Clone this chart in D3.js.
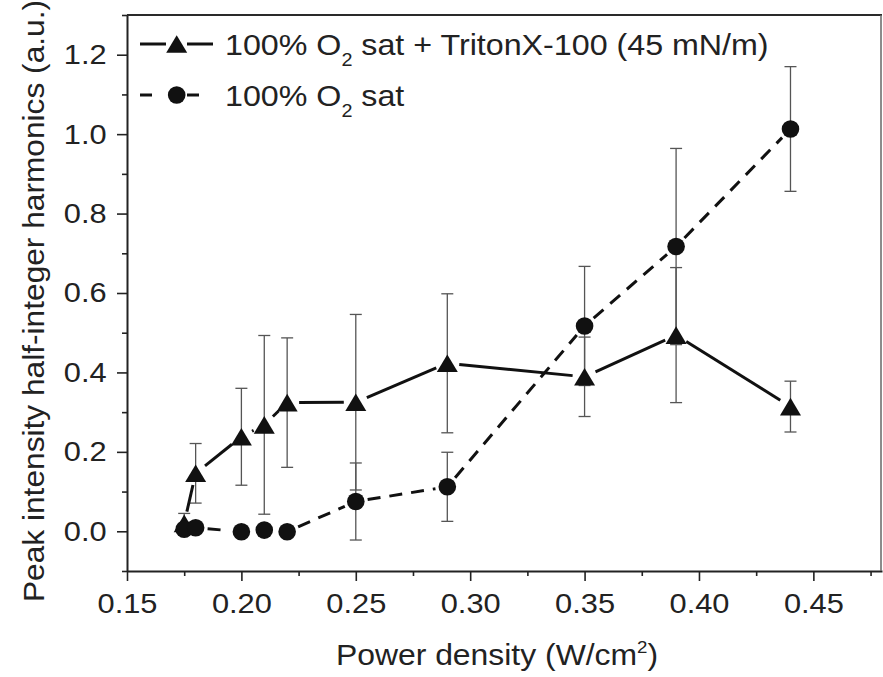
<!DOCTYPE html>
<html>
<head>
<meta charset="utf-8">
<script src="https://cdn.jsdelivr.net/npm/d3@7"></script>
<style>
  body { margin: 0; background: #fff; }
  svg text { font-family: "Liberation Sans", Arial, sans-serif; fill: #222; }
</style>
</head>
<body>
<div id="chart"></div>
<script>
// ---------------------------- data ----------------------------
const powerDensity = [0.175, 0.18, 0.20, 0.21, 0.22, 0.25, 0.29, 0.35, 0.39, 0.44];
const tritonValues = [0.020, 0.146, 0.238, 0.268, 0.324, 0.325, 0.423, 0.389, 0.494, 0.314];
const tritonErrors = [0.025, 0.075, 0.122, 0.225, 0.163, 0.221, 0.175, 0.100, 0.170, 0.064];
const oxygenValues = [0.005, 0.009, -0.001, 0.003, -0.001, 0.075, 0.112, 0.517, 0.717, 1.013];
const oxygenErrors = [0.005, 0.008, 0.004, 0.006, 0.004, 0.097, 0.087, 0.150, 0.247, 0.157];
const xMajorTicks = [0.15, 0.20, 0.25, 0.30, 0.35, 0.40, 0.45];
const xMinorTicks = [0.175, 0.225, 0.275, 0.325, 0.375, 0.425, 0.475];
const yMajorTicks = [0.0, 0.2, 0.4, 0.6, 0.8, 1.0, 1.2];
const yMinorTicks = [-0.1, 0.1, 0.3, 0.5, 0.7, 0.9, 1.1, 1.3];

// ---------------------------- canvas ----------------------------
let w = 883, h = 677;
let padding = {top: 15, right: 1, bottom: 106, left: 127};
let width = w - padding.left - padding.right;
let height = h - padding.top - padding.bottom;
const stretch = 'scale(1.1,1)';

let svg = d3.select('#chart').append('svg')
  .attr('width', w)
  .attr('height', h);

let xScale = d3.scaleLinear().domain([0.15, 0.48]).range([padding.left, padding.left + width]);
let yScale = d3.scaleLinear().domain([-0.1, 1.3]).range([padding.top + height, padding.top]);

// ---------------------------- axes ----------------------------
function styleAxis(g) {
  g.select('.domain').attr('stroke', '#222').attr('stroke-width', 2);
  g.selectAll('.tick line').attr('stroke', '#222').attr('stroke-width', 1.6);
}

let xAxisMinor = svg.append('g')
  .attr('transform', 'translate(0,' + (padding.top + height) + ')')
  .call(d3.axisBottom(xScale).tickValues(xMinorTicks).tickSize(5).tickSizeOuter(0).tickFormat(''));
xAxisMinor.select('.domain').remove();
styleAxis(xAxisMinor);

let xAxis = svg.append('g')
  .attr('transform', 'translate(0,' + (padding.top + height) + ')')
  .call(d3.axisBottom(xScale).tickValues(xMajorTicks).tickSize(10).tickSizeOuter(0).tickFormat(d3.format('.2f')));
styleAxis(xAxis);
xAxis.selectAll('text')
  .attr('y', 22)
  .attr('font-size', 28)
  .attr('transform', stretch);

let yAxisMinor = svg.append('g')
  .attr('transform', 'translate(' + padding.left + ',0)')
  .call(d3.axisLeft(yScale).tickValues(yMinorTicks).tickSize(5).tickSizeOuter(0).tickFormat(''));
yAxisMinor.select('.domain').remove();
styleAxis(yAxisMinor);

let yAxis = svg.append('g')
  .attr('transform', 'translate(' + padding.left + ',0)')
  .call(d3.axisLeft(yScale).tickValues(yMajorTicks).tickSize(10).tickSizeOuter(0).tickFormat(d3.format('.1f')));
styleAxis(yAxis);
yAxis.selectAll('text')
  .attr('x', -18.5)
  .attr('font-size', 28)
  .attr('transform', stretch);

// top and right frame
svg.append('line')
  .attr('x1', padding.left).attr('x2', padding.left + width)
  .attr('y1', padding.top).attr('y2', padding.top)
  .attr('stroke', '#2a2a2a').attr('stroke-width', 2.2);
svg.append('line')
  .attr('x1', padding.left + width - 1).attr('x2', padding.left + width - 1)
  .attr('y1', padding.top).attr('y2', padding.top + height)
  .attr('stroke', '#666').attr('stroke-width', 1.5);

// axis titles
let xTitle = svg.append('text')
  .attr('transform', 'translate(' + 497 + ',' + 665 + ') ' + stretch)
  .attr('text-anchor', 'middle')
  .attr('font-size', 29);
xTitle.append('tspan').text('Power density (W/cm');
xTitle.append('tspan').attr('dy', -12).attr('font-size', 17).text('2');
xTitle.append('tspan').attr('dy', 12).text(')');

svg.append('text')
  .attr('transform', 'translate(44,301) rotate(-90) ' + stretch)
  .attr('text-anchor', 'middle')
  .attr('font-size', 28.8)
  .text('Peak intensity half-integer harmonics (a.u.)');

// ---------------------------- series ----------------------------
let series = [
  {name: 'TritonX', values: tritonValues, errors: tritonErrors, marker: 'triangle', dash: null},
  {name: 'O2', values: oxygenValues, errors: oxygenErrors, marker: 'circle', dash: '13,9'}
];

function trianglePath(cx, cy) {
  let hw = 10.5, hh = 8.8;
  return 'M' + cx + ',' + (cy - hh) + 'L' + (cx + hw) + ',' + (cy + hh) + 'L' + (cx - hw) + ',' + (cy + hh) + 'Z';
}

// segments between markers leave a small gap around each marker
function trimmedSegments(points, gap) {
  let segs = [];
  for (let i = 0; i < points.length - 1; i++) {
    let p0 = points[i], p1 = points[i + 1];
    let dx = p1[0] - p0[0], dy = p1[1] - p0[1];
    let len = Math.sqrt(dx * dx + dy * dy);
    if (len <= 2 * gap) continue;
    let ux = dx / len, uy = dy / len;
    segs.push([p0[0] + ux * gap, p0[1] + uy * gap, p1[0] - ux * gap, p1[1] - uy * gap]);
  }
  return segs;
}

series.forEach(function (s) {
  let pts = powerDensity.map(function (x, i) {
    return [xScale(x), yScale(s.values[i])];
  });

  // error bars
  let eb = svg.append('g').attr('stroke', '#555').attr('stroke-width', 1.3);
  powerDensity.forEach(function (x, i) {
    let cx = xScale(x);
    let top = yScale(s.values[i] + s.errors[i]);
    let bot = yScale(s.values[i] - s.errors[i]);
    eb.append('line').attr('x1', cx).attr('x2', cx).attr('y1', top).attr('y2', bot);
    eb.append('line').attr('x1', cx - 6).attr('x2', cx + 6).attr('y1', top).attr('y2', top);
    eb.append('line').attr('x1', cx - 6).attr('x2', cx + 6).attr('y1', bot).attr('y2', bot);
  });

  // connecting line
  svg.append('g')
    .selectAll('line')
    .data(trimmedSegments(pts, 12))
    .enter()
    .append('line')
    .attr('x1', d => d[0]).attr('y1', d => d[1])
    .attr('x2', d => d[2]).attr('y2', d => d[3])
    .attr('stroke', '#111')
    .attr('stroke-width', 3)
    .attr('stroke-dasharray', s.dash);

  s.points = pts;
});

// markers on top
series.forEach(function (s) {
  let g = svg.append('g').attr('fill', '#111');
  if (s.marker === 'triangle') {
    g.selectAll('path').data(s.points).enter().append('path')
      .attr('d', d => trianglePath(d[0], d[1]));
  } else {
    g.selectAll('circle').data(s.points).enter().append('circle')
      .attr('cx', d => d[0]).attr('cy', d => d[1]).attr('r', 8.8);
  }
});

// ---------------------------- legend ----------------------------
let legend = svg.append('g');

// row 1: solid line + triangle
legend.append('line').attr('x1', 140).attr('x2', 166).attr('y1', 44).attr('y2', 44)
  .attr('stroke', '#111').attr('stroke-width', 3);
legend.append('line').attr('x1', 187).attr('x2', 213).attr('y1', 44).attr('y2', 44)
  .attr('stroke', '#111').attr('stroke-width', 3);
legend.append('path').attr('d', trianglePath(176.7, 44)).attr('fill', '#111');

// row 2: dashed line + circle
legend.append('line').attr('x1', 140).attr('x2', 152).attr('y1', 95).attr('y2', 95)
  .attr('stroke', '#111').attr('stroke-width', 3);
legend.append('line').attr('x1', 187).attr('x2', 199).attr('y1', 95).attr('y2', 95)
  .attr('stroke', '#111').attr('stroke-width', 3);
legend.append('circle').attr('cx', 176.7).attr('cy', 95).attr('r', 8.8).attr('fill', '#111');

function legendText(y, tail) {
  let t = legend.append('text')
    .attr('transform', 'translate(225,' + y + ') ' + stretch)
    .attr('font-size', 29.3);
  t.append('tspan').text('100% O');
  t.append('tspan').attr('dy', 11).attr('font-size', 18).text('2');
  t.append('tspan').attr('dy', -11).text(tail);
}
legendText(55, ' sat + TritonX-100 (45 mN/m)');
legendText(106, ' sat');
</script>
</body>
</html>
